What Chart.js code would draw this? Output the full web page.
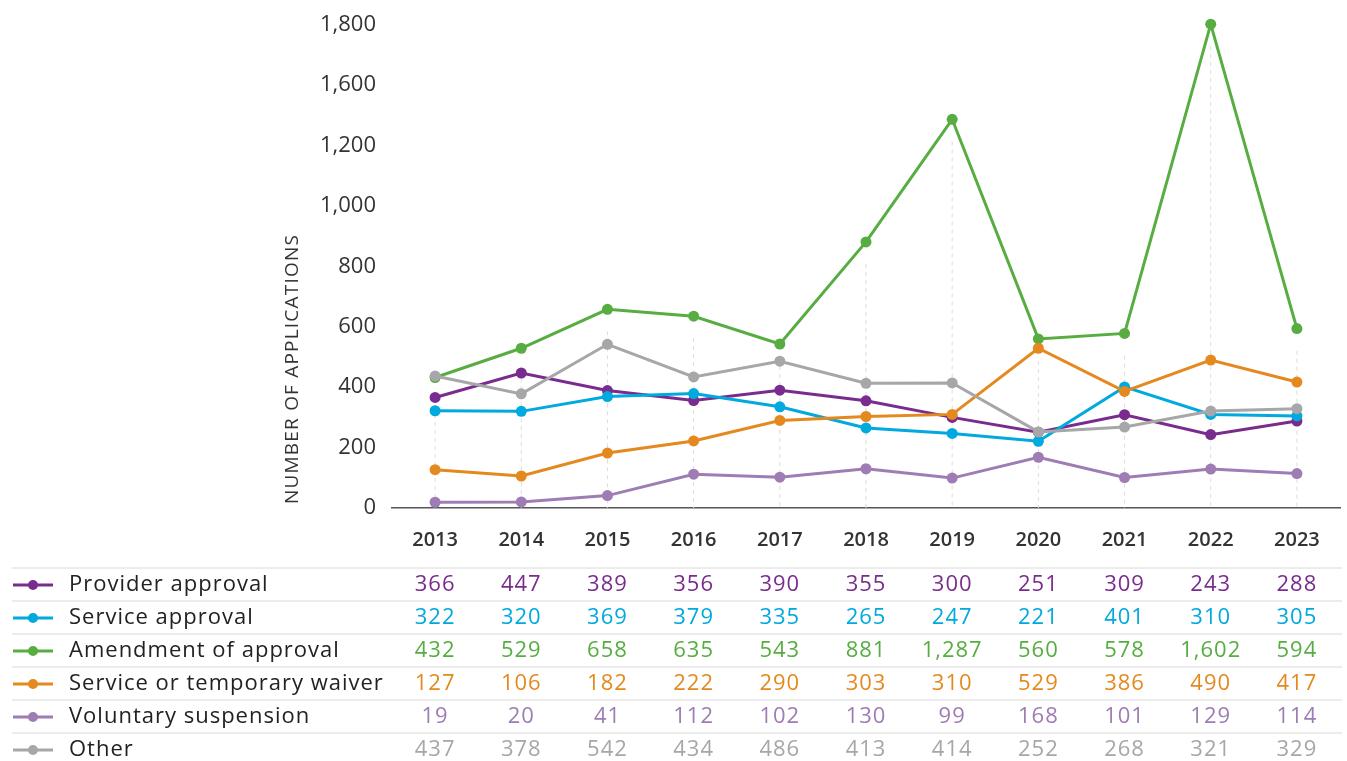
<!DOCTYPE html>
<html>
<head>
<meta charset="utf-8">
<script src="https://cdn.jsdelivr.net/npm/chart.js@4.4.0/dist/chart.umd.min.js"></script>
<style>
  html, body { margin: 0; padding: 0; background: #fff; }
  #wrap { width: 1347px; height: 761px; }
</style>
</head>
<body>
<div id="wrap"><canvas id="c" width="1347" height="761"></canvas></div>
<script>
// ---- data ----
const years = ['2013','2014','2015','2016','2017','2018','2019','2020','2021','2022','2023'];
const seriesNames = ['Provider approval','Service approval','Amendment of approval','Service or temporary waiver','Voluntary suspension','Other'];
const providerApproval   = [366, 447, 389, 356, 390, 355, 300, 251, 309, 243, 288];
const serviceApproval    = [322, 320, 369, 379, 335, 265, 247, 221, 401, 310, 305];
const amendmentApproval  = [432, 529, 658, 635, 543, 881, 1287, 560, 578, 1602, 594];
const temporaryWaiver    = [127, 106, 182, 222, 290, 303, 310, 529, 386, 490, 417];
const voluntarySuspension= [19, 20, 41, 112, 102, 130, 99, 168, 101, 129, 114];
const other              = [437, 378, 542, 434, 486, 413, 414, 252, 268, 321, 329];
const yTickLabels = ['0','200','400','600','800','1,000','1,200','1,600','1,800'];
const yAxisTitle = 'NUMBER OF APPLICATIONS';

const seriesValues = [providerApproval, serviceApproval, amendmentApproval, temporaryWaiver, voluntarySuspension, other];
const colors = ['#792C8D', '#00A9DE', '#57AD41', '#E4891E', '#9E7CB4', '#A7A7A9'];
const FONT = "'Open Sans', 'Noto Sans', sans-serif";

const fmt = v => v.toLocaleString('en-US');

const datasets = seriesValues.map((vals, i) => ({
  label: seriesNames[i],
  data: vals,
  borderColor: colors[i],
  backgroundColor: colors[i],
  borderWidth: 3,
  pointRadius: 5.5,
  pointHoverRadius: 5.5,
  pointBorderWidth: 0,
  tension: 0,
  clip: false,
  order: seriesValues.length - i
}));

const dropLines = {
  id: 'dropLines',
  beforeDatasetsDraw(chart) {
    const { ctx, chartArea, scales } = chart;
    ctx.save();
    ctx.strokeStyle = '#dcdcdc';
    ctx.lineWidth = 1;
    ctx.setLineDash([4, 4]);
    years.forEach((y, idx) => {
      const maxV = Math.max(...seriesValues.map(s => s[idx]));
      const x = scales.x.getPixelForValue(idx);
      const top = scales.y.getPixelForValue(maxV) + 22;
      ctx.beginPath();
      ctx.moveTo(x, top);
      ctx.lineTo(x, chartArea.bottom);
      ctx.stroke();
    });
    ctx.restore();
  }
};

const extras = {
  id: 'extras',
  afterDraw(chart) {
    const { ctx, scales } = chart;
    ctx.save();
    // y-axis title
    ctx.translate(293, 369);
    ctx.rotate(-Math.PI / 2);
    ctx.fillStyle = '#333';
    ctx.font = `400 19px ${FONT}`;
    ctx.letterSpacing = '1.2px';
    ctx.textAlign = 'center';
    ctx.textBaseline = 'middle';
    ctx.fillText(yAxisTitle, 0, 0);
    ctx.restore();

    // table
    ctx.save();
    const rowH = 33;
    const firstSep = 568;
    seriesValues.forEach((vals, r) => {
      const sepY = firstSep + r * rowH;
      const ty = sepY + 17;
      ctx.strokeStyle = '#e6e6e6';
      ctx.lineWidth = 1.5;
      ctx.setLineDash([]);
      ctx.beginPath();
      ctx.moveTo(12, sepY);
      ctx.lineTo(1342, sepY);
      ctx.stroke();
      // legend marker
      ctx.strokeStyle = colors[r];
      ctx.lineWidth = 3;
      ctx.beginPath();
      ctx.moveTo(13, ty);
      ctx.lineTo(53, ty);
      ctx.stroke();
      ctx.fillStyle = colors[r];
      ctx.beginPath();
      ctx.arc(33, ty, 5, 0, Math.PI * 2);
      ctx.fill();
      // label
      ctx.fillStyle = '#222';
      ctx.font = `400 22px ${FONT}`;
      ctx.letterSpacing = '1px';
      ctx.textAlign = 'left';
      ctx.textBaseline = 'middle';
      ctx.fillText(seriesNames[r], 69, ty);
      // values
      ctx.fillStyle = colors[r];
      ctx.textAlign = 'center';
      ctx.font = `400 22px ${FONT}`;
      ctx.letterSpacing = '1px';
      vals.forEach((v, idx) => {
        ctx.fillText(fmt(v), scales.x.getPixelForValue(idx), ty);
      });
    });
    ctx.restore();
  }
};

new Chart(document.getElementById('c'), {
  type: 'line',
  data: { labels: years, datasets },
  options: {
    responsive: false,
    animation: false,
    events: [],
    layout: { padding: { left: 0, right: 7, top: 11, bottom: 189 } },
    plugins: { legend: { display: false }, tooltip: { enabled: false } },
    scales: {
      x: {
        offset: true,
        grid: { display: false, drawTicks: false },
        border: { display: true, color: '#555', width: 1.5 },
        ticks: { color: '#333', font: { family: FONT, size: 20, weight: '600' }, padding: 20 }
      },
      y: {
        min: 0, max: 1600,
        afterFit(scale) { scale.width = 392; },
        grid: { display: false, drawTicks: false },
        border: { display: false },
        ticks: {
          stepSize: 200,
          color: '#333',
          padding: 16,
          font: { family: FONT, size: 22, weight: '400', lineHeight: 0.8 },
          callback: (v, i) => yTickLabels[i]
        }
      }
    }
  },
  plugins: [dropLines, extras]
});
</script>
</body>
</html>
